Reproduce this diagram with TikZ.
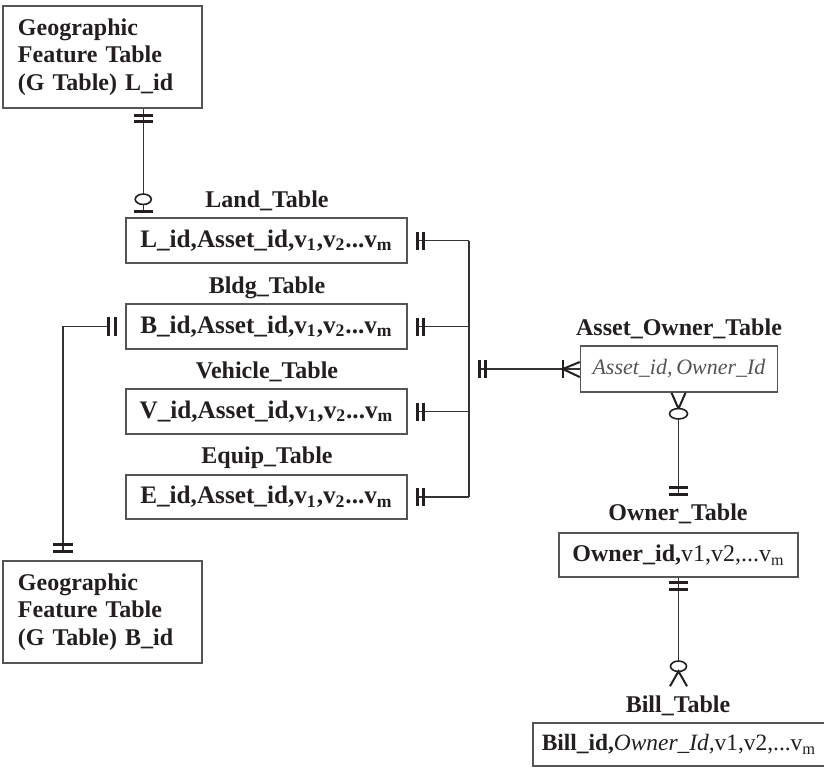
\documentclass[tikz,border=0pt]{standalone}
\usepackage{fontspec}
\setmainfont{Liberation Serif}
\usetikzlibrary{calc}
\definecolor{txt}{HTML}{231F20}
\definecolor{boxc}{HTML}{555555}
\definecolor{linec}{HTML}{333333}
\definecolor{itc}{HTML}{555555}
\begin{document}
\begin{tikzpicture}[x=0.5pt,y=-0.5pt,
  tbl/.style={draw=boxc, line width=0.75pt, inner sep=0pt, text=txt,
    font=\fontsize{12.6}{14}\selectfont\bfseries},
  gbox/.style={tbl, align=left, text width=84.5pt, inner xsep=7.5pt,
    minimum height=51pt, font=\fontsize{12}{13.75}\selectfont\bfseries},
  lbl/.style={font=\fontsize{12}{14}\selectfont\bfseries, text=txt, inner sep=0pt, anchor=base},
  conn/.style={draw=linec, line width=0.75pt},
  bar/.style={draw=txt, line width=1.7pt},
  fbar/.style={draw=txt, line width=1pt},
  ring/.style={draw=txt, line width=0.8pt, fill=white},
]
\clip (0,0) rectangle (824,767);
\fill[white] (0,0) rectangle (824,767);

% ---- boxes ----
\node[gbox] (gtop) at (102.5,57) {Geographic\\Feature Table\\(G Table) L\_id};
\node[gbox] (gbot) at (102.5,612) {Geographic\\Feature Table\\(G Table) B\_id};

\node[tbl, minimum width=140.5pt, minimum height=22.5pt] (land) at (266.5,240.5)
  {L\_id,Asset\_id,v\textsubscript{1},v\textsubscript{2}...v\textsubscript{m}};
\node[tbl, minimum width=140.5pt, minimum height=22.5pt] (bldg) at (266.5,326.5)
  {B\_id,Asset\_id,v\textsubscript{1},v\textsubscript{2}...v\textsubscript{m}};
\node[tbl, minimum width=140.5pt, minimum height=22.5pt] (veh) at (266.5,411.5)
  {V\_id,Asset\_id,v\textsubscript{1},v\textsubscript{2}...v\textsubscript{m}};
\node[tbl, minimum width=140.5pt, minimum height=22pt] (equip) at (266.5,497)
  {E\_id,Asset\_id,v\textsubscript{1},v\textsubscript{2}...v\textsubscript{m}};

\node[tbl, minimum width=98.5pt, minimum height=23pt, text=itc,
  font=\fontsize{11}{13}\selectfont\itshape] (asset) at (679,369) {Asset\_id,\,Owner\_Id};
\node[tbl, minimum width=119.5pt, minimum height=22pt,
  font=\fontsize{12}{14}\selectfont] (owner) at (678.5,555)
  {\textbf{Owner\_id,}v1,v2,...v\textsubscript{m}};
\node[tbl, anchor=west, text width=142pt, inner xsep=4.5pt, minimum height=21.5pt,
  align=left, font=\fontsize{11.7}{13}\selectfont] (bill) at (532,744.5)
  {\textbf{Bill\_id,}\textit{Owner\_Id,}v1,v2,...v\textsubscript{m}};

% ---- labels ----
\node[lbl] (landlbl) at (267,207) {Land\_Table};
\node[lbl] (bldglbl) at (267,293) {Bldg\_Table};
\node[lbl] (vehlbl) at (267,378) {Vehicle\_Table};
\node[lbl] (equiplbl) at (267,463) {Equip\_Table};
\node[lbl] (assetlbl) at (679,335) {Asset\_Owner\_Table};
\node[lbl] (ownerlbl) at (678,520) {Owner\_Table};
\node[lbl] (billlbl) at (678,712) {Bill\_Table};

% ---- G table (top) to Land ----
\coordinate (t1) at ([xshift=9pt]land.north west);
\coordinate (t0) at (t1 |- gtop.south);
\draw[conn] (t0) -- ($(t1)+(0,-6)$);
\draw[bar] ($(t0)+(-9.5,7)$) -- ++(19,0);
\draw[bar] ($(t0)+(-9.5,13)$) -- ++(19,0);
\draw[ring] ($(t1)+(0,-18)$) ellipse [x radius=4pt, y radius=2.6pt];
\draw[bar] ($(t1)+(-9.5,-6)$) -- ++(19,0);

% ---- asset tables to bus ----
\coordinate (busL) at ([xshift=30.5pt]land.east);
\coordinate (busE) at (busL |- equip.east);
\draw[conn] (busL) -- (busE);
\foreach \t in {land,bldg,veh,equip}{
  \draw[conn] ([xshift=4pt]\t.east) -- (\t.east -| busL);
  \draw[bar] ($(\t.east)+(9.5,-9)$) -- ++(0,18);
  \draw[bar] ($(\t.east)+(15.5,-9)$) -- ++(0,18);
}

% ---- bus to Asset_Owner ----
\coordinate (m0) at ($(busL |- asset.west)+(9,0)$);
\draw[conn] (m0) -- (asset.west);
\draw[bar] ($(m0)+(1.5,-9)$) -- ++(0,18);
\draw[bar] ($(m0)+(7.5,-9)$) -- ++(0,18);
\draw[fbar] ($(asset.west)+(-17,-9)$) -- ++(0,18);
\draw[fbar] ($(asset.west)+(0,-7)$) -- ($(asset.west)+(-17,0)$) -- ($(asset.west)+(0,8)$);

% ---- Asset_Owner to Owner ----
\coordinate (a0) at (asset.south -| owner.north);
\coordinate (o0) at (owner.north);
\draw[conn] ($(a0)+(0,16)$) -- ($(o0)+(0,-38)$);
\draw[fbar] ($(a0)+(-7,0)$) -- ($(a0)+(0,16)$) -- ($(a0)+(7,0)$);
\draw[ring] ($(a0)+(0,21)$) ellipse [x radius=4.5pt, y radius=2.6pt];
\draw[bar] ($(o0)+(-9.5,-45)$) -- ++(19,0);
\draw[bar] ($(o0)+(-9.5,-38)$) -- ++(19,0);

% ---- Owner to Bill ----
\coordinate (o1) at (owner.south);
\coordinate (b0) at (bill.north -| owner.south);
\draw[conn] (o1) -- ($(b0)+(0,-51)$);
\draw[bar] ($(o1)+(-9.5,5)$) -- ++(19,0);
\draw[bar] ($(o1)+(-9.5,12)$) -- ++(19,0);
\draw[ring] ($(b0)+(0,-56)$) ellipse [x radius=4pt, y radius=2.6pt];
\draw[fbar] ($(b0)+(-8.5,-36)$) -- ($(b0)+(0,-51)$) -- ($(b0)+(8.5,-36)$);

% ---- Bldg to G table (bottom) ----
\coordinate (g0) at ($(gbot.north)+(-39.5,0)$);
\draw[conn] ($(bldg.west)+(-18,0)$) -| ($(g0)+(0,-9)$);
\draw[bar] ($(bldg.west)+(-16.5,-9.5)$) -- ++(0,19);
\draw[bar] ($(bldg.west)+(-9.5,-9.5)$) -- ++(0,19);
\draw[bar] ($(g0)+(-10,-16)$) -- ++(20,0);
\draw[bar] ($(g0)+(-10,-9)$) -- ++(20,0);
\end{tikzpicture}
\end{document}
